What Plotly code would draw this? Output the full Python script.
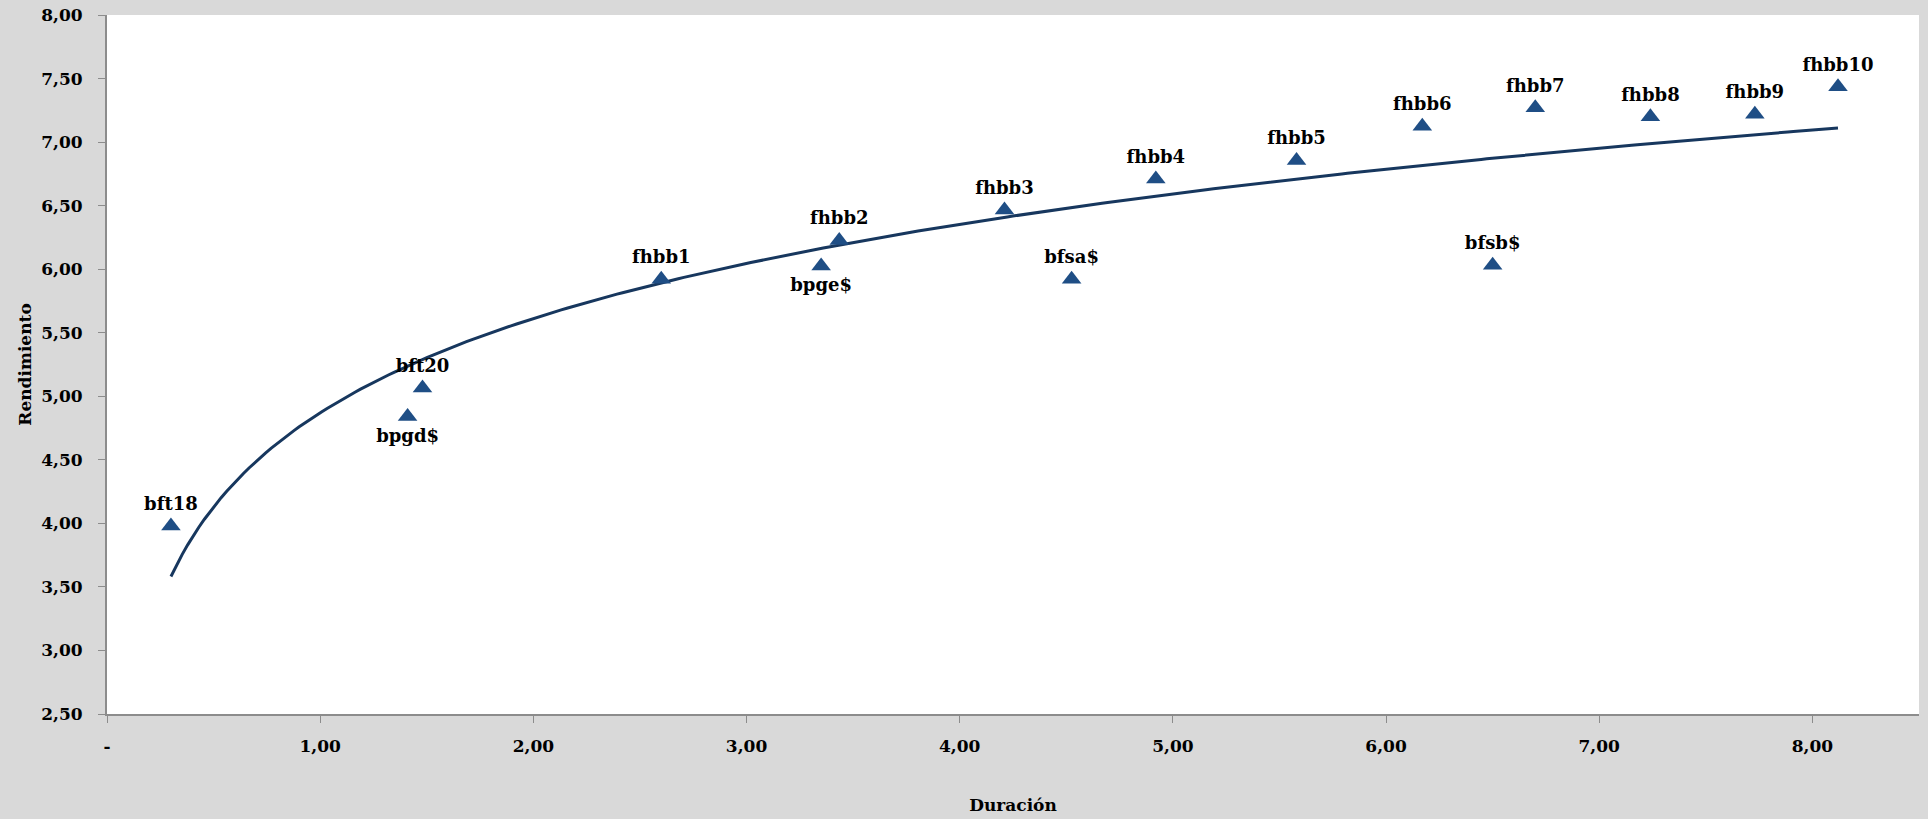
import numpy as np
import plotly.graph_objects as go

# ---- data ----
bonds = ["bft18", "bpgd$", "bft20", "fhbb1", "bpge$", "fhbb2", "fhbb3", "bfsa$",
         "fhbb4", "fhbb5", "fhbb6", "bfsb$", "fhbb7", "fhbb8", "fhbb9", "fhbb10"]
duracion = [0.30, 1.41, 1.48, 2.60, 3.35, 3.435, 4.21, 4.525,
            4.92, 5.58, 6.17, 6.50, 6.70, 7.24, 7.73, 8.12]
rendimiento = [3.98, 4.84, 5.065, 5.92, 6.025, 6.225, 6.465, 5.92,
               6.71, 6.855, 7.125, 6.03, 7.27, 7.20, 7.22, 7.435]
label_pos = ["top center", "bottom center", "top center", "top center",
             "bottom center", "top center", "top center", "top center",
             "top center", "top center", "top center", "top center",
             "top center", "top center", "top center", "top center"]

y_ticks = [2.5, 3.0, 3.5, 4.0, 4.5, 5.0, 5.5, 6.0, 6.5, 7.0, 7.5, 8.0]
y_ticktext = ["2,50", "3,00", "3,50", "4,00", "4,50", "5,00", "5,50",
              "6,00", "6,50", "7,00", "7,50", "8,00"]
x_ticks = [0, 1, 2, 3, 4, 5, 6, 7, 8]
x_ticktext = ["-", "1,00", "2,00", "3,00", "4,00", "5,00", "6,00", "7,00", "8,00"]

# logarithmic trend line (least squares fit of the data, like a spreadsheet trendline)
xd = np.array(duracion)
yd = np.array(rendimiento)
b, a = np.polyfit(np.log(xd), yd, 1)
xt = np.linspace(xd.min(), xd.max(), 300)
yt = a + b * np.log(xt)

SERIF = "DejaVu Serif"

fig = go.Figure()
fig.add_trace(go.Scatter(
    x=xt, y=yt, mode="lines",
    line=dict(color="#17375E", width=3),
    hoverinfo="skip", showlegend=False,
))
fig.add_trace(go.Scatter(
    x=duracion, y=rendimiento, mode="markers+text",
    text=bonds, textposition=label_pos,
    textfont=dict(family=SERIF, size=18, color="black", weight="bold"),
    marker=dict(symbol="triangle-up", size=17, color="#1F4E85"),
    showlegend=False,
))

axis_font = dict(family=SERIF, size=17, color="black", weight="bold")

fig.update_layout(
    width=1928, height=819,
    paper_bgcolor="#D9D9D9",
    plot_bgcolor="white",
    margin=dict(l=107, r=9, t=15, b=105),
    xaxis=dict(
        range=[0, 8.5], tickvals=x_ticks, ticktext=x_ticktext,
        showgrid=False, zeroline=False,
        showline=True, linecolor="#8C8C8C", linewidth=2,
        ticks="outside", ticklen=7, tickcolor="#8C8C8C", tickwidth=1,
        tickfont=axis_font, ticklabelstandoff=9,
        title=dict(text="Duración", font=axis_font, standoff=44),
        automargin=False,
    ),
    yaxis=dict(
        range=[2.5, 8.0], tickvals=y_ticks, ticktext=y_ticktext,
        showgrid=False, zeroline=False,
        showline=True, linecolor="#8C8C8C", linewidth=2,
        ticks="outside", ticklen=7, tickcolor="#8C8C8C", tickwidth=1,
        tickfont=axis_font, ticklabelstandoff=12,
        title=dict(text="Rendimiento", font=axis_font, standoff=5),
        automargin=False,
    ),
)

fig.write_html(
    "out.html",
    config={"displayModeBar": False},
    post_script="document.body.style.margin='0';document.body.style.overflow='hidden';",
)
